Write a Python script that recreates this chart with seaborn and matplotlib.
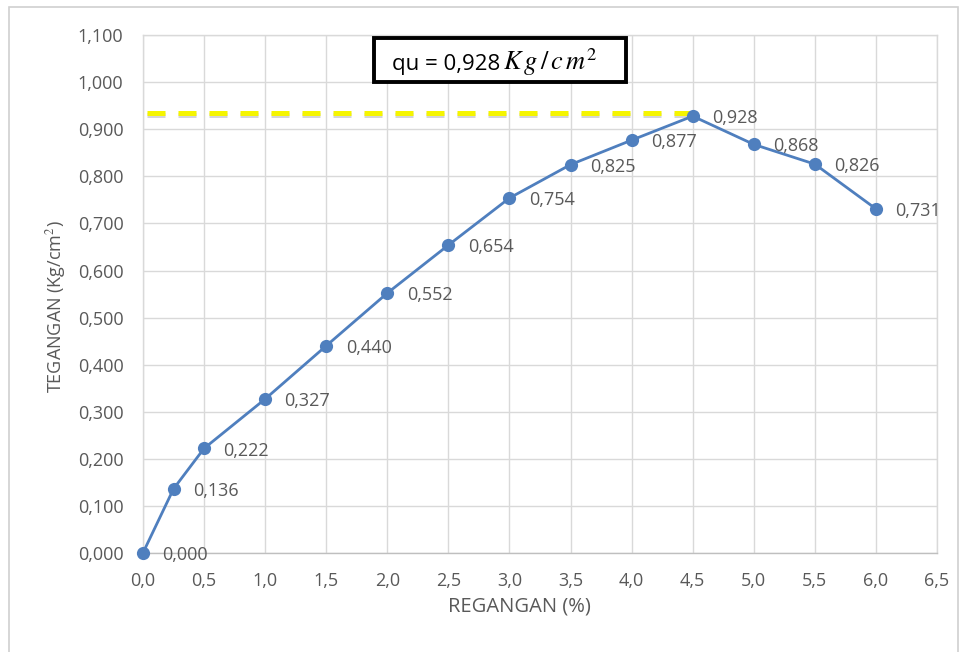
import matplotlib
matplotlib.use("Agg")
import matplotlib.pyplot as plt
import matplotlib.patheffects as pe
import matplotlib.transforms as mtransforms
import seaborn as sns
import pandas as pd
from matplotlib.patches import Rectangle
from matplotlib.ticker import FuncFormatter, MultipleLocator

# Regangan (%) vs tegangan (Kg/cm2) from the unconfined compression test
regangan = [0.0, 0.25, 0.5, 1.0, 1.5, 2.0, 2.5, 3.0, 3.5, 4.0, 4.5, 5.0, 5.5, 6.0]
tegangan = [0.000, 0.136, 0.222, 0.327, 0.440, 0.552, 0.654, 0.754,
            0.825, 0.877, 0.928, 0.868, 0.826, 0.731]
qu = 0.928
qu_regangan = 4.5

df = pd.DataFrame({"regangan": regangan, "tegangan": tegangan})

sns.set_theme(style="white")
plt.rcParams["font.family"] = ["Open Sans", "DejaVu Sans"]
plt.rcParams["mathtext.fontset"] = "stix"

fig = plt.figure(figsize=(9.66, 6.52), dpi=100)
fig.patch.set_facecolor("white")
ax = fig.add_axes([0.148, 0.152, 0.822, 0.794])

blue = "#4F7FBE"
sns.lineplot(data=df, x="regangan", y="tegangan", ax=ax, color=blue,
             linewidth=2.0, marker="o", markersize=9.5, markeredgewidth=0,
             markerfacecolor=blue, zorder=4)
for ln in ax.lines:
    ln.set_clip_on(False)

# dashed peak line, drawn just above the peak marker centre
lift = mtransforms.offset_copy(ax.transData, fig=fig, x=0, y=3, units="dots")
ax.plot([0.03, qu_regangan], [qu, qu], color="#F5F500", linewidth=3.6,
        dashes=(3.6, 2.6), zorder=3, solid_capstyle="butt", transform=lift,
        path_effects=[pe.SimpleLineShadow(offset=(0, -1.5), shadow_color="#888888", alpha=0.35),
                      pe.Normal()])

# data labels
grey = "#595959"
for x, y in zip(regangan, tegangan):
    ax.annotate(f"{y:.3f}".replace(".", ","), (x, y), xytext=(14, -1.5),
                textcoords="offset points", ha="left", va="center",
                fontsize=13, color=grey, zorder=5)

# qu text box
qu_txt = f"{qu:.3f}".replace(".", ",")
ax.add_patch(Rectangle((0.2915, 0.909), 0.317, 0.085, transform=ax.transAxes,
                       facecolor="white", edgecolor="black", linewidth=2.8,
                       zorder=6, clip_on=False))
ax.text(0.3136, 0.944, f"qu = {qu_txt}", transform=ax.transAxes, ha="left",
        va="center", fontsize=16, color="black", zorder=7)
ax.text(0.4534, 0.948, r"$K\,g\,/\,c\,m^2$", transform=ax.transAxes, ha="left",
        va="center", fontsize=19, color="black", zorder=7)

ax.set_xlim(0, 6.5)
ax.set_ylim(0, 1.1)
ax.xaxis.set_major_locator(MultipleLocator(0.5))
ax.yaxis.set_major_locator(MultipleLocator(0.1))
ax.xaxis.set_major_formatter(FuncFormatter(lambda v, p: f"{v:.1f}".replace(".", ",")))
ax.yaxis.set_major_formatter(FuncFormatter(lambda v, p: f"{v:.3f}".replace(".", ",")))
ax.tick_params(axis="both", labelsize=13, colors=grey, length=0)
ax.tick_params(axis="x", pad=14)
ax.tick_params(axis="y", pad=14)
ax.grid(True, color="#D9D9D9", linewidth=1.0)
for s in ax.spines.values():
    s.set_color("#D9D9D9")
    s.set_linewidth(1.0)
ax.spines["bottom"].set_color("#BFBFBF")

ax.set_xlabel("REGANGAN (%)", fontsize=14.5, color=grey)
ax.set_ylabel("TEGANGAN (Kg/cm$^2$)", fontsize=13, color=grey)
ax.xaxis.set_label_coords(0.474, -0.085)
ax.yaxis.set_label_coords(-0.095, 0.476)

# chart area border
fig.patches.append(Rectangle((0.009, -0.02), 0.983, 1.009, transform=fig.transFigure,
                             fill=False, edgecolor="#D0D0D0", linewidth=1.2))

fig.savefig("out.png", dpi=100)
